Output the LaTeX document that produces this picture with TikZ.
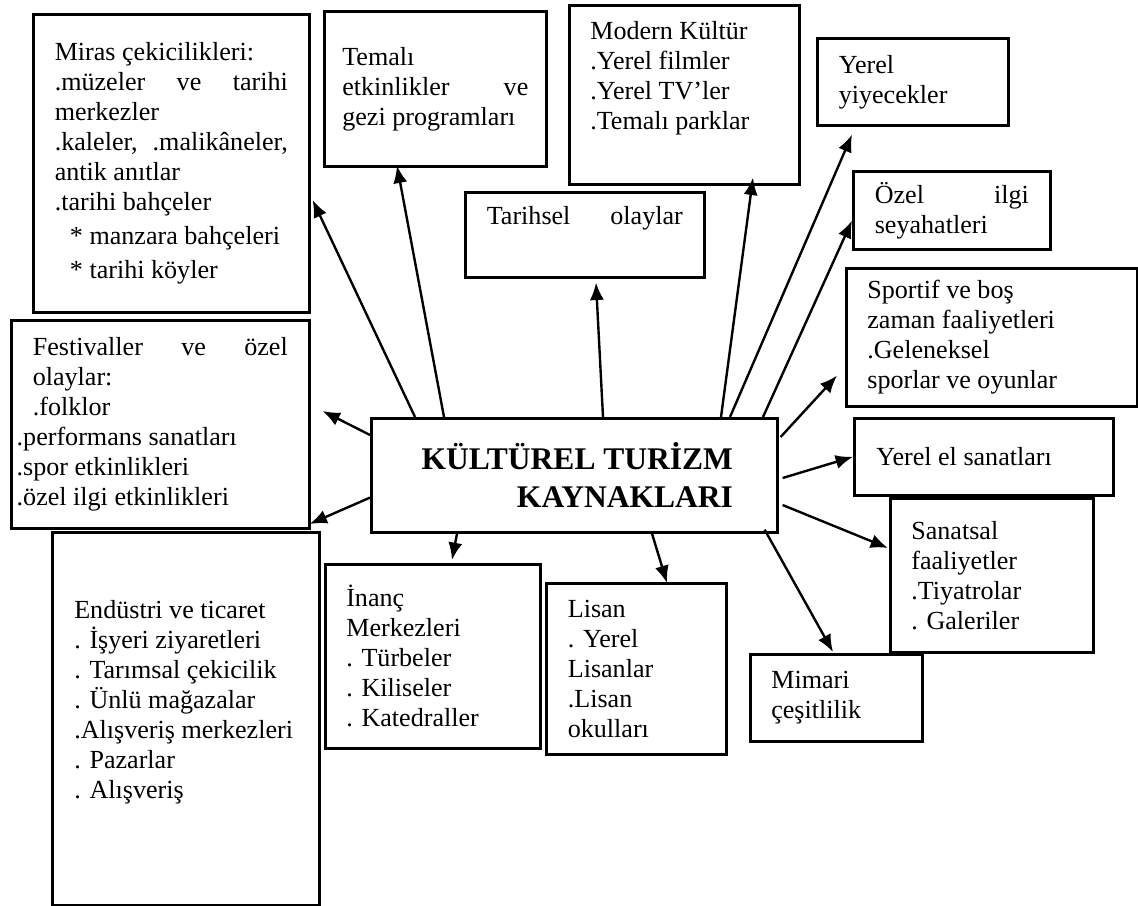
\documentclass[tikz,border=0pt]{standalone}
\usepackage{fontspec}
\setmainfont{Liberation Serif}
\usepackage{tikz}
\usetikzlibrary{arrows.meta,calc}
\newcommand\ara{\hspace{0pt plus 1filll}}
\newcommand\nodemiras{Miras çekicilikleri:\\ .müzeler\ara ve\ara tarihi\\ merkezler\\ .kaleler,\ara .malikâneler,\\ antik anıtlar\\ .tarihi bahçeler\\[2pt] \hspace*{7pt}* manzara bahçeleri\\[2pt] \hspace*{7pt}* tarihi köyler}
\newcommand\nodetemali{Temalı\\ etkinlikler\ara ve\\ gezi programları}
\newcommand\nodemodern{Modern Kültür\\ .Yerel filmler\\ .Yerel TV’ler\\ .Temalı parklar\\ \strut}
\newcommand\nodetarihsel{Tarihsel\ara olaylar\\ \strut}
\newcommand\nodeyiyecek{Yerel\\ yiyecekler}
\newcommand\nodeozel{Özel\ara ilgi\\ seyahatleri}
\newcommand\nodesportif{Sportif ve boş\\ zaman faaliyetleri\\ .Geleneksel\\ sporlar ve oyunlar}
\newcommand\nodeyerelel{Yerel el sanatları}
\newcommand\nodesanatsal{Sanatsal\\ faaliyetler\\ .Tiyatrolar\\ . Galeriler}
\newcommand\nodemimari{Mimari\\ çeşitlilik}
\newcommand\nodelisan{Lisan\\ . Yerel\\ Lisanlar\\ .Lisan\\ okulları}
\newcommand\nodeinanc{İnanç\\ Merkezleri\\ . Türbeler\\ . Kiliseler\\ . Katedraller}
\newcommand\nodeendustri{Endüstri ve ticaret\\ . İşyeri ziyaretleri\\ . Tarımsal çekicilik\\ . Ünlü mağazalar\\ .Alışveriş merkezleri\\ . Pazarlar\\ . Alışveriş\\ \strut}
\newcommand\nodefestival{Festivaller\ara ve\ara özel\\ olaylar:\\ .folklor\\ \hspace*{-7.4pt}.performans sanatları\\ \hspace*{-7.4pt}.spor etkinlikleri\\ \hspace*{-7.4pt}.özel ilgi etkinlikleri}
\newcommand\nodekaynak{KÜLTÜREL TURİZM\\ KAYNAKLARI}
\tikzstyle{kutu} = [rectangle, draw, line width=1.2pt, inner sep=2pt, align=flush left, anchor=north west, font=\fontsize{12pt}{13.8pt}\selectfont]
\tikzstyle{ana} = [kutu, align=flush right, font=\bfseries\fontsize{14.5pt}{17.5pt}\selectfont]
\tikzset{>={Latex[length=8pt,width=6.5pt]}, every picture/.style={line width=1.1pt}}
\begin{document}
\begin{tikzpicture}[x=0.46pt, y=-0.46pt]
\useasboundingbox (0,0) rectangle (1138,905);
\node[kutu, minimum width=126.96pt, minimum height=137.08pt, text width=107.2pt] (miras) at (32,13) {\nodemiras};
\node[kutu, minimum width=102.12pt, minimum height=71.3pt, text width=85.56pt] (temali) at (323,10) {\nodetemali};
\node[kutu, minimum width=105.8pt, minimum height=82.34pt, text width=86.48pt] (modern) at (568,4) {\nodemodern};
\node[kutu, minimum width=109.94pt, minimum height=39.1pt, text width=90.16pt] (tarihsel) at (464,191) {\nodetarihsel};
\node[kutu, minimum width=87.86pt, minimum height=40.02pt, text width=68.08pt] (yiyecek) at (816,37) {\nodeyiyecek};
\node[kutu, minimum width=90.62pt, minimum height=35.88pt, text width=70.84pt] (ozel) at (852,170) {\nodeozel};
\node[kutu, minimum width=133.86pt, minimum height=63.48pt, text width=114.5pt] (sportif) at (845,267) {\nodesportif};
\node[kutu, minimum width=119.14pt, minimum height=35.42pt, text width=98.9pt] (yerelel) at (853,417) {\nodeyerelel};
\node[kutu, minimum width=93.38pt, minimum height=70.84pt, text width=74.06pt] (sanatsal) at (889,497) {\nodesanatsal};
\node[kutu, minimum width=79.12pt, minimum height=40.02pt, text width=59.8pt] (mimari) at (749,653) {\nodemimari};
\node[kutu, minimum width=82.8pt, minimum height=78.66pt, text width=63.02pt] (lisan) at (545,582) {\nodelisan};
\node[kutu, minimum width=98.9pt, minimum height=84.64pt, text width=79.58pt] (inanc) at (324,563) {\nodeinanc};
\node[kutu, minimum width=122.82pt, minimum height=171.58pt, text width=102.58pt] (endustri) at (51,531) {\nodeendustri};
\node[kutu, minimum width=137.08pt, minimum height=95.68pt, text width=117.3pt] (festival) at (10,319) {\nodefestival};
\node[ana, minimum width=186.76pt, minimum height=52.44pt, text width=146pt] (kaynak) at (370,417) {\nodekaynak};
\draw [->] ($(kaynak.north west)+(45,0)$) -- ($(miras.north east)+(2,187)$);
\draw [->] ($(kaynak.north west)+(74,0)$) -- ($(temali.south west)+(74,-2)$);
\draw [->] ($(kaynak.north west)+(233,0)$) -- ($(tarihsel.south west)+(132,4)$);
\draw [->] ($(kaynak.north west)+(351,0)$) -- ($(modern.south west)+(185,-8)$);
\draw [->] ($(kaynak.north west)+(360,0)$) -- ($(yiyecek.south west)+(36,8)$);
\draw [->] ($(kaynak.north west)+(393,0)$) -- ($(ozel.south west)+(0,-30)$);
\draw [->] ($(kaynak.north east)+(2,20)$) -- ($(sportif.south west)+(-8,-32)$);
\draw [->] ($(kaynak.north east)+(4,61)$) -- (yerelel.west);
\draw [->] ($(kaynak.north east)+(4,88)$) -- ($(sanatsal.north west)+(-1,51)$);
\draw [->] ($(kaynak.south east)+(-14,-4)$) -- ($(mimari.north west)+(84,-1)$);
\draw [->] ($(kaynak.south west)+(282,0)$) -- ($(lisan.north west)+(122,1)$);
\draw [->] ($(kaynak.south west)+(87,0)$) -- ($(inanc.north west)+(128,-3)$);
\draw [->] ($(kaynak.north west)+(0,18)$) -- ($(festival.north east)+(12,92)$);
\draw [->] ($(kaynak.south west)+(0,-36)$) -- ($(endustri.north east)+(-11,-7)$);
\end{tikzpicture}
\end{document}
